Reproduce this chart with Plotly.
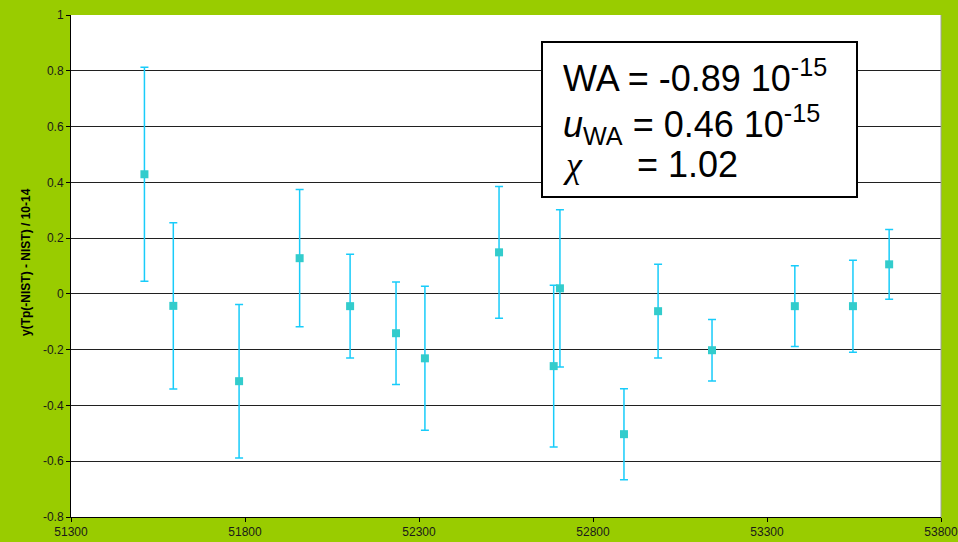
import plotly.graph_objects as go

# Measurement epochs (MJD) and deviations y(Tp(-NIST) - NIST) in units of 1e-14
mjd = [51511, 51594, 51783, 51957, 52102, 52234, 52317, 52530,
       52687, 52705, 52889, 52987, 53142, 53380, 53547, 53651]
deviation = [0.429, -0.043, -0.313, 0.128, -0.044, -0.141, -0.231, 0.149,
             -0.259, 0.020, -0.503, -0.062, -0.202, -0.044, -0.044, 0.106]
uncertainty = [0.384, 0.298, 0.275, 0.246, 0.186, 0.184, 0.258, 0.236,
               0.290, 0.282, 0.163, 0.168, 0.110, 0.145, 0.165, 0.125]

x_ticks = [51300, 51800, 52300, 52800, 53300, 53800]
x_ticktext = ["51300", "51800", "52300", "52800", "53300", "53800"]
y_ticks = [1, 0.8, 0.6, 0.4, 0.2, 0, -0.2, -0.4, -0.6, -0.8]
y_ticktext = ["1", "0.8", "0.6", "0.4", "0.2", "0", "-0.2", "-0.4", "-0.6", "-0.8"]

y_title = "y(Tp(-NIST) - NIST) / 10-14"
CHI = '<span style="font-family:\'Liberation Serif\', serif"><i>\u03c7</i></span>'
summary_lines = [
    "WA = -0.89 10<sup>-15</sup>",
    "<i>u</i><sub>WA</sub> = 0.46 10<sup>-15</sup>",
    CHI + "\u00a0\u00a0\u00a0\u00a0\u00a0<span style=\"font-size:18px\">\u00a0</span>= 1.02",
]

W, H = 958, 542
L, R, T, B = 71, 17, 15, 25
PW, PH = W - L - R, H - T - B


def px(xp):
    return (xp - L) / PW


def py(yp):
    return (H - B - yp) / PH


FONT = "Arial, 'Liberation Sans', sans-serif"

fig = go.Figure()
fig.add_trace(go.Scatter(
    x=mjd, y=deviation, mode="markers",
    marker=dict(symbol="square", size=8, color="#33CCCC"),
    error_y=dict(type="data", array=uncertainty, visible=True,
                 color="#18CCFA", thickness=1.5, width=4),
    showlegend=False,
))

# Summary box
fig.add_shape(type="rect", xref="paper", yref="paper",
              x0=px(542), x1=px(857), y0=py(197), y1=py(42),
              line=dict(color="black", width=2), fillcolor="white", layer="above")
# Thin right boundary of the plot area
fig.add_shape(type="line", xref="paper", yref="paper",
              x0=1, x1=1, y0=0, y1=1, line=dict(color="#A0A0A0", width=1))

line_y = [76, 124, 165]
for txt, yc in zip(summary_lines, line_y):
    fig.add_annotation(text=txt, xref="paper", yref="paper",
                       x=px(561), y=py(yc), xanchor="left", yanchor="middle",
                       showarrow=False, font=dict(family=FONT, size=36, color="black"))

fig.add_annotation(text="<b>" + y_title + "</b>", xref="paper", yref="paper",
                   x=px(26), y=py(262), xanchor="center", yanchor="middle",
                   textangle=-90, showarrow=False,
                   font=dict(family=FONT, size=12, color="black"))

fig.update_layout(
    width=W, height=H,
    margin=dict(l=L, r=R, t=T, b=B, pad=0, autoexpand=False),
    paper_bgcolor="#99CC00",
    plot_bgcolor="white",
    font=dict(family=FONT, size=12, color="#1a1a1a"),
    xaxis=dict(range=[51300, 53800], tickvals=x_ticks, ticktext=x_ticktext,
               showgrid=False, zeroline=False, showline=True, linecolor="black",
               linewidth=1, ticks="outside", ticklen=4, tickcolor="black",
               automargin=False, ticklabeloverflow="allow"),
    yaxis=dict(range=[-0.8, 1], tickvals=y_ticks, ticktext=y_ticktext,
               showgrid=True, gridcolor="#202020", gridwidth=1, zeroline=False,
               showline=True, linecolor="black", linewidth=1,
               ticks="outside", ticklen=4, tickcolor="black",
               automargin=False, ticklabeloverflow="allow"),
)

fig.write_html("out.html")
